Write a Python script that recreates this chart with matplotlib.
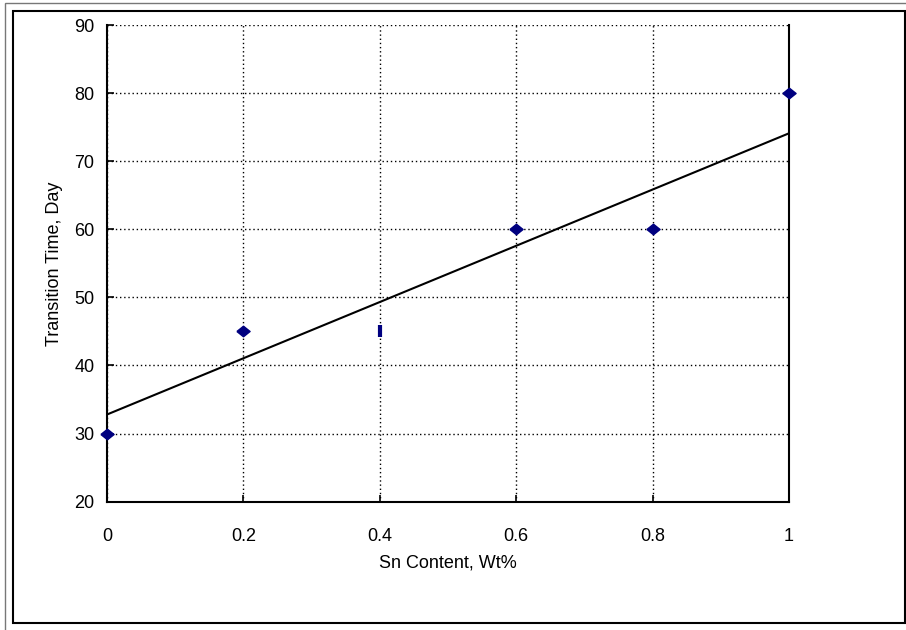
import matplotlib.pyplot as plt
from matplotlib.patches import Rectangle

sn_content = [0.0, 0.2, 0.6, 0.8, 1.0]
transition_days = [30, 45, 60, 60, 80]
# the 0.4 point shows up only as a thin bar in the original
odd_x = [0.4]
odd_y = [45]
trend_intercept = 32.8
trend_slope = 41.3
trend_x = [0.0, 1.0]
x_ticks = [0, 0.2, 0.4, 0.6, 0.8, 1]
x_tick_labels = ["0", "0.2", "0.4", "0.6", "0.8", "1"]
y_ticks = [20, 30, 40, 50, 60, 70, 80, 90]

plt.rcParams["font.family"] = ["Liberation Sans", "DejaVu Sans"]

fig = plt.figure(figsize=(9.06, 6.30), dpi=100)
fig.patches.append(Rectangle((5 / 906, -0.05), 1.2, 1 - 3 / 630 + 0.05,
                             transform=fig.transFigure, fill=False,
                             edgecolor="#777777", linewidth=1))
fig.patches.append(Rectangle((13 / 906, 7 / 630), 892 / 906, 612 / 630,
                             transform=fig.transFigure, fill=False,
                             edgecolor="black", linewidth=1.5))

ax = fig.add_axes([0.1181, 0.2037, 0.7528, 0.7566])
ax.set_xlim(0, 1)
ax.set_ylim(20, 90)

ax.grid(True, linestyle=(0, (1, 2)), color="black", linewidth=1)
ax.set_axisbelow(True)

trend_y = [trend_intercept + trend_slope * x for x in trend_x]
ax.plot(trend_x, trend_y, color="black", linewidth=1.5, zorder=3)

# slightly flattened diamond, like the Excel marker
diamond = [(-1, 0), (0, 0.8), (1, 0), (0, -0.8), (-1, 0)]
ax.plot(sn_content, transition_days, linestyle="none", marker=diamond,
        markersize=9.5, color="#000080", clip_on=False, zorder=4)
ax.plot(odd_x, odd_y, linestyle="none", marker="|", markersize=9,
        markeredgewidth=3, color="#000080", zorder=4)

ax.set_xticks(x_ticks)
ax.set_xticklabels(x_tick_labels)
ax.set_yticks(y_ticks)
ax.tick_params(direction="in", length=5, width=1.2, labelsize=13, pad=9)
ax.tick_params(axis="x", pad=19)

for side in ["left", "bottom", "right"]:
    ax.spines[side].set_linewidth(1.5)
ax.spines["top"].set_visible(False)

ax.set_xlabel("Sn Content, Wt%", fontsize=13, labelpad=7)
ax.set_ylabel("Transition Time, Day", fontsize=13, labelpad=8)

plt.savefig("out.png", dpi=100)
